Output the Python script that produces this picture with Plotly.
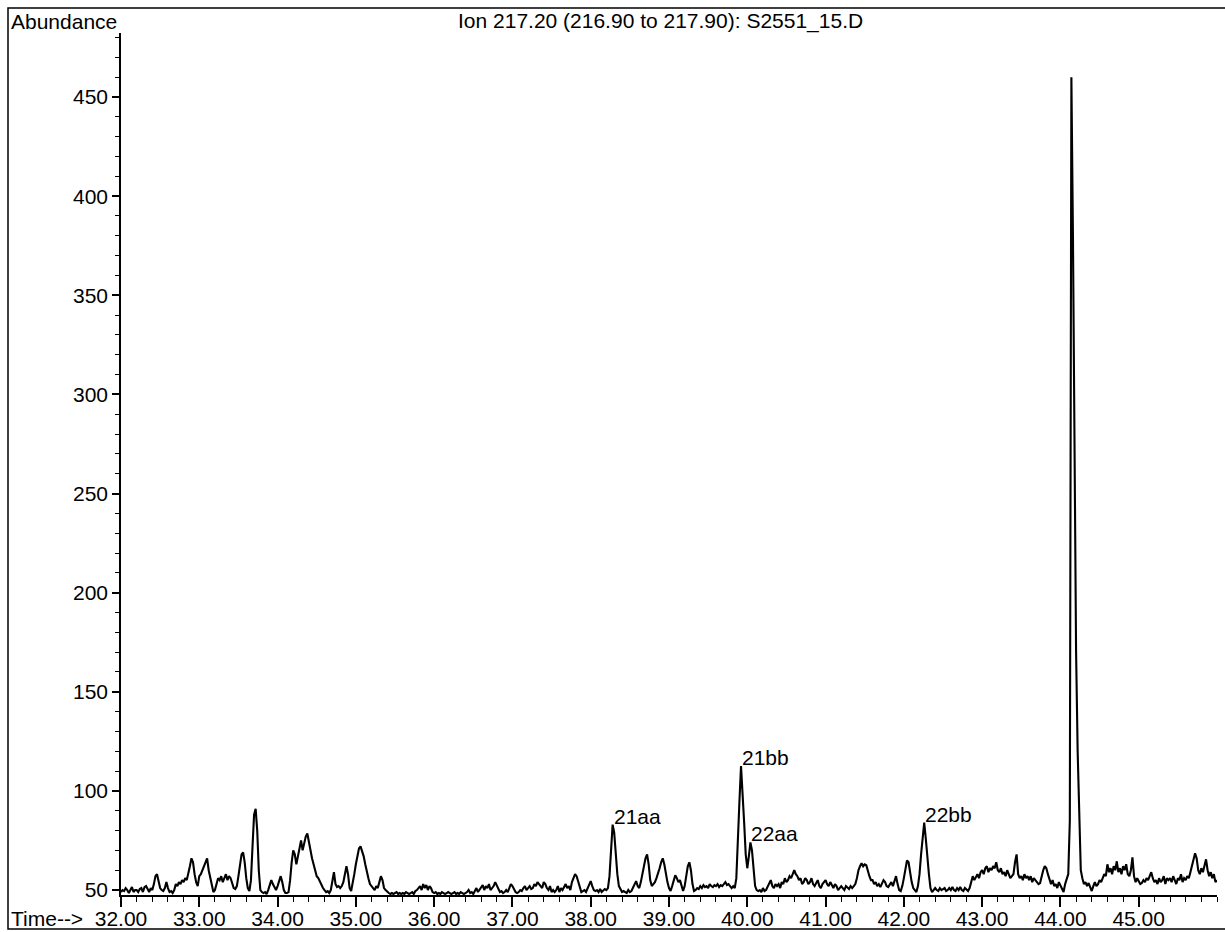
import numpy as np
import plotly.graph_objects as go

# ---- data ----
START_TIME = 32.00   # min
STEP = 0.02          # min between samples
ABUNDANCE = [
    49, 50, 49.5, 51, 50, 48.5, 50, 51.5, 49, 50,          # 32.00
    50, 49, 50.5, 51, 49, 51.5, 52, 50, 49, 51,            # 32.20
    50, 53, 57, 58, 55, 51, 50, 49.5, 51, 54,              # 32.40
    51, 49, 49.5, 48.5, 50, 53, 52, 54, 53, 55,            # 32.60
    54, 56, 55, 58, 62, 66, 64, 58, 54, 52,                # 32.80
    57, 58, 60, 61, 64, 66, 60, 56, 52, 49,                # 33.00
    50, 53, 56, 55, 57, 54, 56, 58, 55, 57,                # 33.20
    56, 53, 51, 50.5, 52, 57, 63, 68, 69, 64,              # 33.40
    56, 51, 49.5, 55, 72, 88, 91, 80, 60, 50,              # 33.60
    49, 48.5, 49, 48, 50, 53, 55, 53, 51, 50,              # 33.80
    52, 55, 57, 54, 50, 48.5, 48.5, 49, 55, 64,            # 34.00
    70, 68, 63, 67, 71, 75, 70, 73, 77, 78.5,              # 34.20
    74, 69, 66, 63, 60, 57, 56, 54, 53, 51,                # 34.40
    50, 49, 49.5, 48.5, 50, 55, 59, 53, 51.5, 52,          # 34.60
    51, 52, 54, 58, 62, 58, 51, 49.5, 53, 58,              # 34.80
    63, 68, 71, 72, 70, 67, 63, 59, 56, 53,                # 35.00
    52, 51, 50, 52, 51, 54, 57, 55, 51, 50,                # 35.20
    49, 48.5, 48, 48.5, 48, 48.5, 49, 48, 48.5, 48,        # 35.40
    48.5, 48, 49, 48.5, 48, 48.5, 49, 48, 49.5, 50,        # 35.60
    51, 52, 50, 53, 51, 52.5, 50, 52, 51, 49,              # 35.80
    48.5, 49, 48, 48.5, 48, 49, 48.5, 48, 48.5, 49,        # 36.00
    48.5, 48, 48.5, 49, 48, 48.5, 48, 49, 48.5, 48,        # 36.20
    48.5, 49, 50, 48.5, 49, 48, 49.5, 51, 49, 50,          # 36.40
    51, 52.5, 50, 52, 51, 53, 50, 51, 52, 54,              # 36.60
    52, 50, 49, 49.5, 48.5, 49, 50, 49, 51, 53,            # 36.80
    52, 50, 49, 48.5, 49, 50, 49.5, 51, 52, 50,            # 37.00
    51, 52, 50.5, 51, 53, 52, 54, 53, 52, 51,              # 37.20
    54, 53, 51, 50, 52, 49, 50, 49, 50, 52,                # 37.40
    49, 51, 50, 52, 53, 51, 52, 50, 54, 56,                # 37.60
    58, 57, 54, 51, 49, 49.5, 50, 49, 51, 53,              # 37.80
    54.5, 52, 50, 49.5, 50, 49, 50.5, 49, 50, 50.5,        # 38.00
    50, 51, 57, 72, 83, 79, 68, 58, 52, 50,                # 38.20
    49, 49.5, 49, 48.5, 50, 49, 49.5, 51, 53, 54.5,        # 38.40
    52, 51, 54, 58, 62, 66, 68, 63, 55, 52,                # 38.60
    53, 54, 56, 58, 61, 64, 66, 63, 58, 54,                # 38.80
    51, 49.5, 52, 55, 57.5, 56, 54, 55, 52, 49.5,          # 39.00
    52, 57, 62, 64, 60, 53, 49.5, 50, 51, 50.5,            # 39.20
    52, 51, 52.5, 51.5, 52, 51, 53, 52, 51.5, 52.5,        # 39.40
    52, 53, 51.5, 52.5, 52, 53, 54, 52.5, 53, 52,          # 39.60
    51, 52, 51, 56, 72, 95, 112.5, 100, 84, 68,            # 39.80
    61, 67, 74, 70, 60, 52, 50, 49.5, 50, 49,              # 40.00
    51, 49.5, 50, 52, 54, 55, 52, 51, 53, 52,              # 40.20
    53, 51, 54, 53, 56, 54, 55, 57, 56, 58,                # 40.40
    60, 58, 57, 55, 56, 53, 54, 56, 55, 53,                # 40.60
    54, 56, 53, 52, 54, 55, 52, 51, 53, 54,                # 40.80
    55, 53, 52, 54, 52, 51, 53, 52, 50, 51,                # 41.00
    52, 51, 50, 52, 51, 50.5, 52, 51, 52, 53,              # 41.20
    56, 60, 62, 63.5, 62, 63, 62.5, 59, 57, 55,            # 41.40
    55, 53, 54, 52, 53, 51.5, 53, 55, 54, 52,              # 41.60
    51.5, 53, 54, 52, 55, 57, 53, 50, 49.5, 52,            # 41.80
    56, 61, 65, 64, 58, 54, 51, 50, 49, 52,                # 42.00
    58, 68, 78, 84, 76, 66, 58, 51, 49, 50,                # 42.20
    51, 50, 49.5, 51, 50, 50.5, 51, 49.5, 50, 51,          # 42.40
    50, 51.5, 50, 49.5, 51, 50, 51.5, 50, 49.5, 51,        # 42.60
    50, 49.5, 51, 54, 57, 55, 57, 58, 56, 59,              # 42.80
    60, 58, 61, 62, 59, 61, 60, 62, 61, 64,                # 43.00
    60, 59, 61, 58, 59, 57, 60, 58, 56, 57,                # 43.20
    58, 64, 68, 58, 56, 57, 55, 58, 56, 57,                # 43.40
    55, 57, 54, 56, 55, 54, 53, 53.5, 57, 60,              # 43.60
    62, 61, 58, 55, 53, 55, 52, 53, 51, 54,                # 43.80
    52, 50, 49, 53, 55, 58, 85, 460, 380, 250,             # 44.00
    170, 120, 95, 60, 56, 53, 54, 52, 53.5, 51,            # 44.20
    49.5, 52, 54, 52, 53, 55, 54, 56, 58, 57,              # 44.40
    63, 59, 61, 58, 62, 60, 64.5, 59, 61, 58,              # 44.60
    62, 60, 63, 58, 57, 60, 66.5, 57, 54, 56,              # 44.80
    54, 53, 53.5, 55, 54, 56, 55, 57, 59, 56,              # 45.00
    54, 55, 53, 56, 54, 55, 57, 53, 56, 55,                # 45.20
    56, 54, 57, 55, 53, 56, 55, 58, 54, 56,                # 45.40
    55, 57, 56, 59, 62, 66, 68.5, 66, 60, 58,              # 45.60
    61, 59, 63, 65.5, 60, 57, 59, 56, 58, 54,              # 45.80
    55,                                                    # 46.00
]
PEAK_LABELS = ["21aa", "21bb", "22aa", "22bb"]
PEAK_TIMES = [38.28, 39.92, 40.04, 42.26]
X_TICKS = [32, 33, 34, 35, 36, 37, 38, 39, 40, 41, 42, 43, 44, 45]
Y_TICKS = [50, 100, 150, 200, 250, 300, 350, 400, 450]
TITLE = "Ion 217.20 (216.90 to 217.90): S2551_15.D"

time = np.round(START_TIME + STEP * np.arange(len(ABUNDANCE)), 2)
abund = np.array(ABUNDANCE, dtype=float)

FONT = "Liberation Sans, Arial, Helvetica, sans-serif"
FS = 21
W, H = 1225, 932
L, R, T, B = 121, 8, 33, 37

fig = go.Figure()
fig.add_trace(go.Scatter(x=time, y=abund, mode="lines",
                         line=dict(color="black", width=2.1),
                         hoverinfo="x+y", showlegend=False))

for lab, t in zip(PEAK_LABELS, PEAK_TIMES):
    idx = int(np.argmin(np.abs(time - t)))
    fig.add_annotation(x=time[idx], y=abund[idx], text=lab, showarrow=False,
                       xanchor="left", yanchor="bottom", xshift=-1, yshift=-5,
                       font=dict(family=FONT, size=FS, color="black"))

def px_to_paper_x(px):
    return (px - L) / (W - L - R)

def px_to_paper_y(py):
    return (H - B - py) / (H - T - B)

fig.add_annotation(x=px_to_paper_x(9), y=px_to_paper_y(21.5), xref="paper", yref="paper",
                   text="Abundance", showarrow=False, xanchor="left", yanchor="middle",
                   font=dict(family=FONT, size=FS, color="black"))
fig.add_annotation(x=px_to_paper_x(660.5), y=px_to_paper_y(21.5), xref="paper", yref="paper",
                   text=TITLE, showarrow=False, xanchor="center", yanchor="middle",
                   font=dict(family=FONT, size=FS, color="black"))
fig.add_annotation(x=px_to_paper_x(9), y=px_to_paper_y(918.5), xref="paper", yref="paper",
                   text="Time-->", showarrow=False, xanchor="left", yanchor="middle",
                   font=dict(family=FONT, size=FS, color="black"))

# outer frame (top, left, bottom edges)
x_l, x_r = px_to_paper_x(8), px_to_paper_x(1226)
y_t, y_b = px_to_paper_y(8), px_to_paper_y(929)
fig.add_shape(type="path", xref="paper", yref="paper",
              path=f"M {x_r},{y_t} L {x_l},{y_t} L {x_l},{y_b} L {x_r},{y_b}",
              line=dict(color="black", width=1.5))

fig.update_layout(
    width=W, height=H,
    margin=dict(l=L, r=R, t=T, b=B, pad=0, autoexpand=False),
    paper_bgcolor="white", plot_bgcolor="white",
    font=dict(family=FONT, size=FS, color="black"),
    xaxis=dict(range=[32, 46], tickvals=X_TICKS, automargin=False,
               ticktext=[f"{v:.2f}" for v in X_TICKS],
               ticks="outside", ticklen=10, tickwidth=1.5, tickcolor="black",
               ticklabelstandoff=-6,
               showline=True, linecolor="black", linewidth=1.5,
               showgrid=False, zeroline=False,
               minor=dict(dtick=0.2, tick0=32, ticks="outside", ticklen=5,
                          tickwidth=1.2, tickcolor="black", showgrid=False),
               tickfont=dict(family=FONT, size=FS, color="black")),
    yaxis=dict(range=[47.5, 482.3], tickvals=Y_TICKS, automargin=False,
               ticks="outside", ticklen=7, tickwidth=1.5, tickcolor="black",
               showline=True, linecolor="black", linewidth=1.5,
               showgrid=False, zeroline=False,
               minor=dict(dtick=10, tick0=50, ticks="outside", ticklen=4,
                          tickwidth=1.2, tickcolor="black", showgrid=False),
               tickfont=dict(family=FONT, size=FS, color="black")),
)

fig.write_html("out.html", config={"displayModeBar": False},
               post_script="document.body.style.margin='0';document.body.style.overflow='hidden';")
